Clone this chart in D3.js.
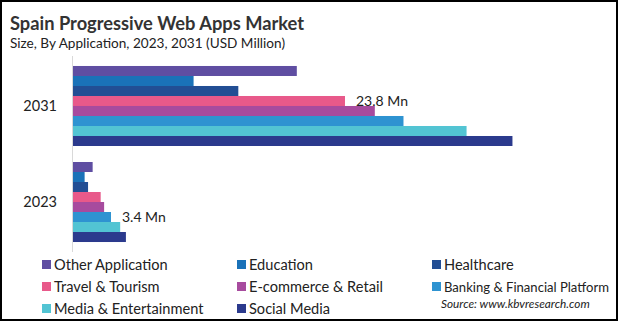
<!DOCTYPE html>
<html><head><meta charset="utf-8">
<script src="https://cdn.jsdelivr.net/npm/d3@7"></script>
<style>body{margin:0;background:#fff;}svg{display:block;font-family:Lato,"Open Sans","Noto Sans",sans-serif;}</style>
</head><body>
<script>
const years = ["2031", "2023"];
const series = ["Other Application","Education","Healthcare","Travel & Tourism","E-commerce & Retail","Banking & Financial Platform","Media & Entertainment","Social Media"];
const colors = ["#5f4ea2","#1a72b8","#224e94","#e8598a","#a74b9e","#2e93d1","#52c4d3","#2b3a8d"];
const values2031 = [19.6, 10.6, 14.5, 23.8, 26.4, 28.9, 34.4, 38.4];
const values2023 = [1.8, 1.1, 1.4, 2.5, 2.8, 3.4, 4.2, 4.7];
const labels = [{year:"2031", series:"Travel & Tourism", text:"23.8 Mn"},{year:"2023", series:"Banking & Financial Platform", text:"3.4 Mn"}];

const W=619,H=322;
const svg=d3.select("body").append("svg").attr("width",W).attr("height",H);
svg.append("rect").attr("x",0).attr("y",0).attr("width",W).attr("height",H).attr("fill","#fff");

svg.append("text").attr("x",10).attr("y",30).attr("font-size",18.3).attr("font-weight","bold").attr("fill","#333").text("Spain Progressive Web Apps Market");
svg.append("text").attr("x",10).attr("y",48).attr("font-size",13.6).attr("fill","#222").text("Size, By Application, 2023, 2031 (USD Million)");

const data={"2031":values2031,"2023":values2023};
const x=d3.scaleLinear().domain([0,1]).range([72,72+11.47]);
const y=d3.scaleBand().domain(years).range([56,252]).paddingInner(1/6).paddingOuter(0.104);
const yi=d3.scaleBand().domain(series).range([0,y.bandwidth()]);

years.forEach(yr=>{
  const g=svg.append("g").attr("transform",`translate(0,${y(yr)})`);
  g.selectAll("rect").data(series).join("rect")
    .attr("x",x(0)).attr("y",s=>yi(s)).attr("height",yi.bandwidth())
    .attr("width",(s,i)=>x(data[yr][i])-x(0)).attr("fill",(s,i)=>colors[i]);
});
svg.append("line").attr("x1",72.5).attr("x2",72.5).attr("y1",56).attr("y2",252).attr("stroke","#d9d9d9").attr("stroke-width",1);

const yAxis=d3.axisLeft(y).tickSize(0).tickPadding(15);
const ga=svg.append("g").attr("transform","translate(72,0)").call(yAxis);
ga.select(".domain").remove();
ga.selectAll("text").attr("font-size",14.5).attr("fill","#222").attr("font-family",'Lato,"Open Sans",sans-serif');

labels.forEach(l=>{
  const i=series.indexOf(l.series);
  svg.append("text").attr("x",x(data[l.year][i])+11).attr("y",y(l.year)+yi(l.series)+yi.bandwidth()/2+5)
    .attr("font-size",14).attr("fill","#222").text(l.text);
});

const colX=[42,237,432], rowY=[265,287,309];
series.forEach((s,i)=>{
  const cx=colX[i%3], cy=rowY[Math.floor(i/3)];
  svg.append("rect").attr("x",cx).attr("y",cy-5).attr("width",9).attr("height",9).attr("fill",colors[i]);
  const t=svg.append("text").attr("x",cx+12).attr("y",cy+5).attr("font-size",14.6).attr("fill","#222").text(s);
  const maxW=W-10-(cx+12);
  const w=t.node().getComputedTextLength();
  if(w>maxW) t.attr("font-size",14.6*maxW/w);
});
svg.append("text").attr("x",441).attr("y",308).attr("font-size",11.8).attr("font-style","italic").attr("fill","#222").text("Source: www.kbvresearch.com");
svg.append("rect").attr("x",1).attr("y",1).attr("width",W-3).attr("height",H-3).attr("fill","none").attr("stroke","#000").attr("stroke-width",2);
</script>
</body></html>
